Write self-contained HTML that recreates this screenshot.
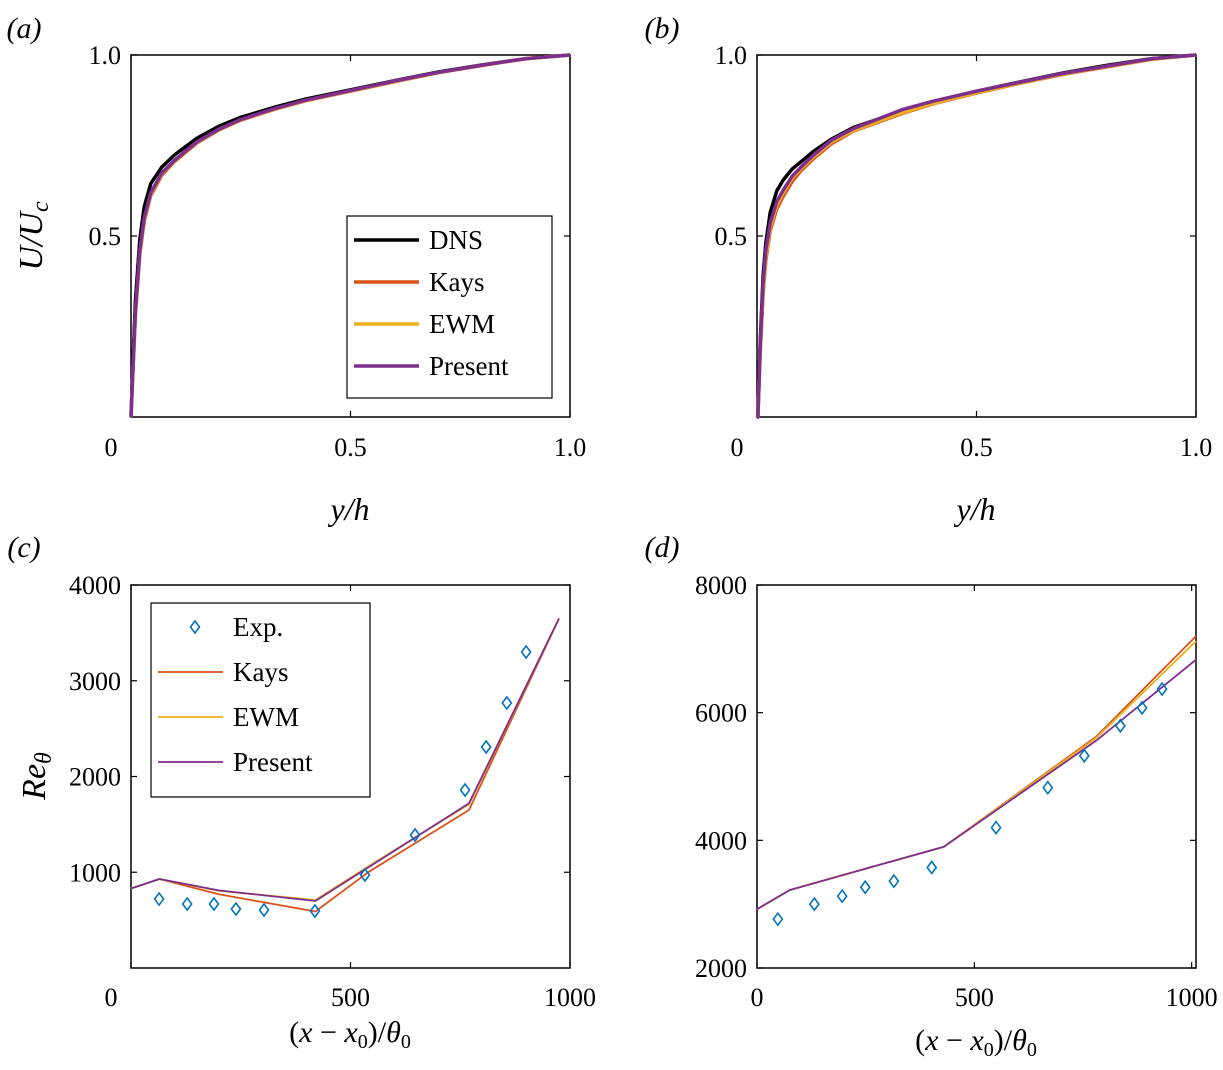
<!DOCTYPE html>
<html><head><meta charset="utf-8">
<style>
body{margin:0;background:#fff;}
svg{display:block;font-family:"Liberation Serif",serif;}
</style></head>
<body>
<svg id="fig" width="1223" height="1070" viewBox="0 0 1223 1070"></svg>
<script>
// ---- data ----
const aY=[0,0.005,0.01,0.02,0.03,0.045,0.07,0.1,0.15,0.2,0.25,0.33,0.4,0.5,0.6,0.7,0.8,0.9,1.0];
const aDNS=[0,0.17,0.32,0.49,0.58,0.645,0.69,0.725,0.77,0.803,0.828,0.857,0.879,0.904,0.929,0.953,0.973,0.99,1.0];
const aKays=[0,0.14,0.28,0.45,0.54,0.612,0.668,0.707,0.757,0.793,0.82,0.851,0.874,0.9,0.926,0.951,0.971,0.99,1.0];
const aEWM=[0,0.145,0.285,0.455,0.545,0.617,0.672,0.709,0.759,0.795,0.821,0.852,0.875,0.901,0.927,0.951,0.972,0.99,1.0];
const aPres=[0,0.15,0.29,0.46,0.55,0.62,0.674,0.71,0.76,0.795,0.822,0.853,0.876,0.902,0.928,0.952,0.972,0.99,1.0];
const bY=[0,0.002,0.007,0.014,0.02,0.03,0.045,0.06,0.08,0.1,0.13,0.17,0.22,0.33,0.4,0.5,0.6,0.7,0.8,0.9,1.0];
const bDNS=[0,0.0,0.2,0.39,0.48,0.565,0.625,0.655,0.685,0.705,0.735,0.768,0.8,0.845,0.871,0.9,0.926,0.951,0.972,0.99,1.0];
const bKays=[0,0.0,0.17,0.34,0.43,0.515,0.575,0.61,0.65,0.68,0.715,0.755,0.79,0.838,0.865,0.895,0.922,0.947,0.968,0.988,1.0];
const bEWM=[0,0.0,0.175,0.35,0.44,0.525,0.585,0.62,0.66,0.686,0.72,0.76,0.792,0.84,0.866,0.896,0.923,0.948,0.969,0.989,1.0];
const bPres=[0,0.0,0.185,0.37,0.46,0.536,0.595,0.627,0.665,0.69,0.725,0.765,0.797,0.849,0.872,0.9,0.925,0.95,0.97,0.99,1.0];
const cExpX=[64,128,189,239,303,419,533,647,761,809,856,900];
const cExpY=[720,668,668,616,606,595,971,1389,1859,2308,2768,3300];
const cLineX=[0,65,200,420,540,770,975];
const cKays=[830,930,770,590,1000,1650,3650];
const cEWM=[830,930,805,710,1060,1710,3650];
const cPres=[830,930,810,700,1050,1720,3650];
const dExpX=[48,132,196,249,315,402,550,669,753,836,886,932];
const dExpY=[2765,3000,3125,3265,3360,3575,4200,4825,5325,5795,6075,6370];
const dLineX=[0,75,430,780,1010];
const dKays=[2920,3220,3900,5620,7200];
const dEWM=[2920,3220,3900,5600,7120];
const dPres=[2920,3220,3900,5560,6830];
const xTicksAB=["0","0.5","1.0"], yTicksAB=["0.5","1.0"];
const xTicksCD=["0","500","1000"];
const yTicksC=["1000","2000","3000","4000"], yTicksD=["2000","4000","6000","8000"];

const NS="http://www.w3.org/2000/svg";
const svg=document.getElementById('fig');
function mk(tag,attrs,parent){const e=document.createElementNS(NS,tag);for(const k in attrs)e.setAttribute(k,attrs[k]);(parent||svg).appendChild(e);return e;}
function txt(x,y,s,size,anchor,italic,name){const t=mk('text',{x:x,y:y,'font-size':size,'text-anchor':anchor||'middle','font-style':italic?'italic':'normal'});t.textContent=s;


return t;}
const COL={dns:'#000',kays:'#d95319',ewm:'#edb120',pres:'#7e2f8e',exp:'#0072bd'};

function panel(p){
  const g=mk('g',{});
  
  
  const sx=v=>p.x0+(v-p.xmin)/(p.xmax-p.xmin)*(p.x1-p.x0);
  const sy=v=>p.y1-(v-p.ymin)/(p.ymax-p.ymin)*(p.y1-p.y0);
  const box=mk('rect',{x:p.x0,y:p.y0,width:p.x1-p.x0,height:p.y1-p.y0,fill:'none',stroke:'#000','stroke-width':1.5},g);
  
  
  p.xt.forEach(s=>{const v=parseFloat(s);const X=sx(v);
    mk('line',{x1:X,x2:X,y1:p.y1,y2:p.y1-6,stroke:'#000','stroke-width':1.2},g);
    mk('line',{x1:X,x2:X,y1:p.y0,y2:p.y0+6,stroke:'#000','stroke-width':1.2},g);
    const t=txt(v===0&&p.zeroOff?X-20:X,p.xly,s,26,'middle',false,'x-tick-label');g.appendChild(t);});
  p.yt.forEach(s=>{const v=parseFloat(s);const Y=sy(v);
    mk('line',{x1:p.x0,x2:p.x0+6,y1:Y,y2:Y,stroke:'#000','stroke-width':1.2},g);
    mk('line',{x1:p.x1,x2:p.x1-6,y1:Y,y2:Y,stroke:'#000','stroke-width':1.2},g);
    const t=txt(p.x0-10,Y+9,s,26,'end',false,'y-tick-label');g.appendChild(t);});
  p.lines.forEach(l=>{
    const d=l.x.map((v,i)=>(i?'L':'M')+sx(v).toFixed(1)+','+sy(l.y[i]).toFixed(1)).join('');
    const path=mk('path',{d:d,fill:'none',stroke:l.c,'stroke-width':l.w,'stroke-linejoin':'round'},g);
    
    
  });
  if(p.exp){p.exp.x.forEach((v,i)=>{const X=sx(v),Y=sy(p.exp.y[i]);
    const m=mk('path',{d:`M${X},${Y-6}L${X+4.5},${Y}L${X},${Y+6}L${X-4.5},${Y}Z`,fill:'none',stroke:COL.exp,'stroke-width':1.6},g);
    
    });}
  return g;
}
const ab=(id,x0,x1,Y,A,B,C,D)=>({id:id,x0:x0,x1:x1,y0:55,y1:417,xmin:0,xmax:1,ymin:0,ymax:1,xly:456,zeroOff:true,xt:xTicksAB,yt:yTicksAB,
  lines:[{x:Y,y:A,c:COL.dns,w:3.5,n:'dns'},{x:Y,y:B,c:COL.kays,w:3.5,n:'kays'},{x:Y,y:C,c:COL.ewm,w:3.5,n:'ewm'},{x:Y,y:D,c:COL.pres,w:3.5,n:'present'}]});
panel(ab('a',131,570,aY,aDNS,aKays,aEWM,aPres));
panel(ab('b',757,1196,bY,bDNS,bKays,bEWM,bPres));
panel({id:'c',x0:131,x1:570,y0:585,y1:968,xmin:0,xmax:1000,ymin:0,ymax:4000,xly:1006,zeroOff:true,xt:xTicksCD,yt:yTicksC,
  lines:[{x:cLineX,y:cKays,c:COL.kays,w:1.8,n:'kays'},{x:cLineX,y:cEWM,c:COL.ewm,w:1.8,n:'ewm'},{x:cLineX,y:cPres,c:COL.pres,w:1.8,n:'present'}],
  exp:{x:cExpX,y:cExpY}});
panel({id:'d',x0:757,x1:1196,y0:585,y1:968,xmin:0,xmax:1010,ymin:2000,ymax:8000,xly:1006,xt:xTicksCD,yt:yTicksD,
  lines:[{x:dLineX,y:dKays,c:COL.kays,w:1.8,n:'kays'},{x:dLineX,y:dEWM,c:COL.ewm,w:1.8,n:'ewm'},{x:dLineX,y:dPres,c:COL.pres,w:1.8,n:'present'}],
  exp:{x:dExpX,y:dExpY}});

// panel letters and axis titles
txt(24,38,'(a)',30,'middle',true,'panel-label-a');
txt(662,38,'(b)',30,'middle',true,'panel-label-b');
txt(24,557,'(c)',30,'middle',true,'panel-label-c');
txt(662,557,'(d)',30,'middle',true,'panel-label-d');
txt(350,520,'y/h',32,'middle',true,'x-axis-title-a');
txt(976,520,'y/h',32,'middle',true,'x-axis-title-b');
function xTitle(x,y,name){
  const t=txt(x,y,'',30,'middle',false,name);
  const parts=[['(',0,0],['x',1,0],[' − ',0,0],['x',1,0],['0',0,1],[')/',0,0],['θ',1,0],['0',0,1]];
  parts.forEach(p=>{const s=document.createElementNS(NS,'tspan');s.textContent=p[0];if(p[1])s.setAttribute('font-style','italic');
    if(p[2]){s.setAttribute('font-size','20');s.setAttribute('dy','6');}else s.setAttribute('dy',t.childNodes.length&&t.lastChild.getAttribute('font-size')==='20'?'-6':'0');
    t.appendChild(s);});
}
xTitle(350,1042,'x-axis-title-c');
xTitle(976,1050,'x-axis-title-d');
let t=txt(0,0,'U/U',34,'middle',true,'y-axis-title-a');
t.setAttribute('transform','translate(42,236) rotate(-90)');
const sub=document.createElementNS(NS,'tspan');sub.setAttribute('font-size','24');sub.setAttribute('dy','6');sub.textContent='c';t.appendChild(sub);
t=txt(0,0,'Re',34,'middle',true,'y-axis-title-c');
t.setAttribute('transform','translate(45,776) rotate(-90)');
const sub2=document.createElementNS(NS,'tspan');sub2.setAttribute('font-size','24');sub2.setAttribute('dy','6');sub2.textContent='θ';t.appendChild(sub2);

// legends
function legend(x,y,w,h,items,lw,name){
  const g=mk('g',{});
  
  
  mk('rect',{x:x,y:y,width:w,height:h,fill:'#fff',stroke:'#000','stroke-width':1.2},g);
  items.forEach((it,i)=>{const Y=y+24+i*(h-14)/items.length;
    if(it.exp){mk('path',{d:`M${x+44},${Y-6}L${x+48.5},${Y}L${x+44},${Y+6}L${x+39.5},${Y}Z`,fill:'none',stroke:COL.exp,'stroke-width':1.6},g);}
    else mk('line',{x1:x+7,x2:x+72,y1:Y,y2:Y,stroke:it.c,'stroke-width':lw},g);
    const tt=txt(x+82,Y+9,it.t,27,'start',false,'legend-entry');g.appendChild(tt);});
}
legend(347,216,205,182,[{t:'DNS',c:COL.dns},{t:'Kays',c:COL.kays},{t:'EWM',c:COL.ewm},{t:'Present',c:COL.pres}],3.5,'legend-a');
legend(151,603,219,194,[{t:'Exp.',exp:true},{t:'Kays',c:COL.kays},{t:'EWM',c:COL.ewm},{t:'Present',c:COL.pres}],1.8,'legend-c');
</script>
</body></html>
